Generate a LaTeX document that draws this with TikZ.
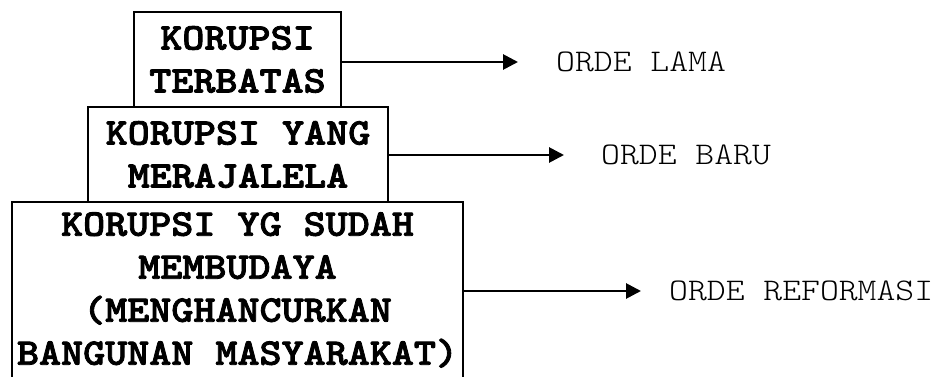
\documentclass[tikz,border=0pt]{standalone}
\usepackage{fontspec}
\newfontfamily\courbold[FakeStretch=1.12,FakeBold=2.2]{lmmonolt10-bold.otf}
\newfontfamily\courreg[FakeStretch=1.14]{lmmonolt10-regular.otf}
\usetikzlibrary{arrows.meta}
\tikzset{
  boxnode/.style={draw, line width=2pt, rectangle, inner sep=0pt, align=center,
    font=\courbold\fontsize{37.5pt}{43pt}\selectfont},
  ordelabel/.style={anchor=west, inner sep=0pt, font=\courreg\fontsize{31.5pt}{36pt}\selectfont},
  arrowline/.style={line width=2.8pt, -{Triangle[length=15pt,width=15pt]}}
}
\begin{document}
\begin{tikzpicture}[x=1pt,y=-1pt]
\clip (0,0) rectangle (938,377);
\fill[white] (0,0) rectangle (938,377);
\node[boxnode, minimum width=207pt, minimum height=95pt] (b1) at (237.5,59.5) {KORUPSI\\TERBATAS};
\node[boxnode, minimum width=300pt, minimum height=95pt] (b2) at (238,154.5) {KORUPSI YANG\\MERAJALELA};
\node[boxnode, minimum width=451pt, minimum height=176pt] (b3) at (237.5,290) {KORUPSI YG SUDAH\\MEMBUDAYA\\(MENGHANCURKAN\\BANGUNAN MASYARAKAT)};
\node[ordelabel] (l1) at (556,62) {ORDE LAMA};
\node[ordelabel] (l2) at (601,155) {ORDE BARU};
\node[ordelabel] (l3) at (669,291) {ORDE REFORMASI};
\draw[arrowline, shorten >=38pt] (b1.east |- l1.west) -- (l1.west);
\draw[arrowline, shorten >=37pt] (b2.east |- l2.west) -- (l2.west);
\draw[arrowline, shorten >=28pt] (b3.east |- l3.west) -- (l3.west);
\end{tikzpicture}
\end{document}
